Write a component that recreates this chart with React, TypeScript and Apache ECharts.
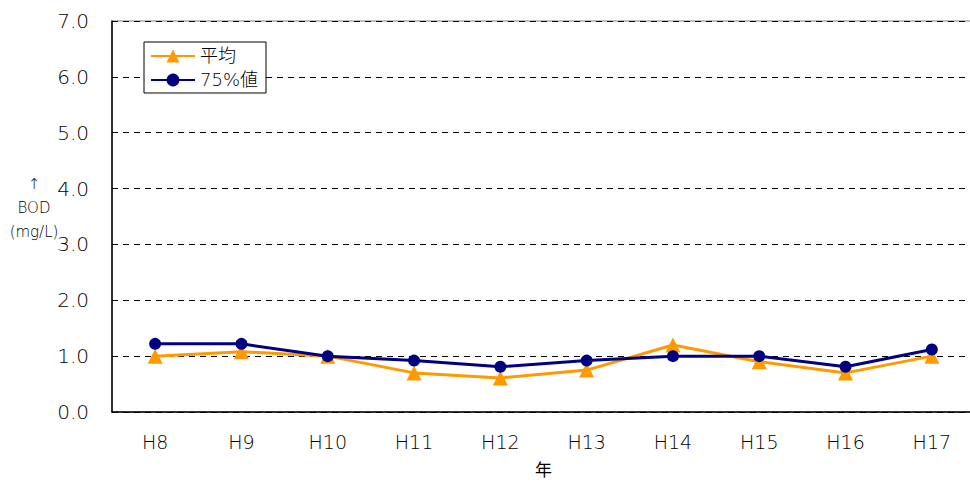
import React, { useEffect, useRef } from "react";
import * as echarts from "echarts";

const categories = ["H8", "H9", "H10", "H11", "H12", "H13", "H14", "H15", "H16", "H17"];
const averageValues = [1.0, 1.08, 1.0, 0.7, 0.61, 0.75, 1.2, 0.9, 0.7, 1.0];
const p75Values = [1.22, 1.22, 1.0, 0.92, 0.81, 0.92, 1.0, 1.0, 0.81, 1.12];
const seriesNames = ["平均", "75%値"];
const yTicks = { min: 0, max: 7, interval: 1 };

const FONT = "'DejaVu Sans', 'Noto Sans CJK JP', sans-serif";
const CJK = "'Noto Sans CJK JP', sans-serif";

export default function App() {
  const ref = useRef<HTMLDivElement>(null);
  useEffect(() => {
    if (!ref.current) return;
    const chart = echarts.init(ref.current, null, { renderer: "svg" });
    chart.setOption({
      animation: false,
      backgroundColor: "#ffffff",
      grid: {
        left: 112,
        top: 21,
        right: 0,
        bottom: 70,
        show: true,
        borderColor: "#808080",
        borderWidth: 1,
      },
      legend: {
        orient: "vertical",
        left: 144,
        top: 42,
        padding: [5, 8, 4, 6],
        itemGap: 6,
        itemWidth: 44,
        itemHeight: 16,
        borderColor: "#000",
        borderWidth: 1,
        backgroundColor: "#fff",
        textStyle: { fontFamily: FONT, fontSize: 18, fontWeight: 200, color: "#000" },
        data: seriesNames,
      },
      xAxis: {
        type: "category",
        data: categories,
        name: "年",
        nameLocation: "middle",
        nameGap: 48,
        nameTextStyle: { fontFamily: CJK, fontSize: 17, color: "#000" },
        axisLine: { lineStyle: { color: "#000", width: 1.5 } },
        axisTick: { inside: true, length: 6, lineStyle: { color: "#000" } },
        axisLabel: { fontFamily: FONT, fontSize: 19, fontWeight: 200, color: "#000", margin: 20 },
        splitLine: { show: false },
      },
      yAxis: {
        type: "value",
        min: yTicks.min,
        max: yTicks.max,
        interval: yTicks.interval,
        axisLine: { show: true, lineStyle: { color: "#000", width: 1.5 } },
        axisTick: { show: true, inside: true, length: 6, lineStyle: { color: "#000" } },
        axisLabel: {
          fontFamily: FONT,
          fontSize: 20,
          fontWeight: 200,
          color: "#000",
          margin: 23,
          formatter: (v: number) => v.toFixed(1),
        },
        splitLine: {
          show: true,
          lineStyle: { color: "#000", type: [6, 5], width: 1 },
        },
      },
      graphic: [
        {
          type: "text",
          x: 34,
          y: 172,
          style: {
            text: "↑\nBOD\n(mg/L)",
            fontFamily: FONT,
            fontSize: 15,
            fontWeight: 200,
            lineHeight: 24,
            fill: "#000",
            align: "center",
            verticalAlign: "top",
          },
        },
      ],
      series: [
        {
          name: seriesNames[0],
          type: "line",
          data: averageValues,
          symbol: "triangle",
          symbolSize: 15,
          itemStyle: { color: "#FF9900" },
          lineStyle: { color: "#FF9900", width: 3 },
          z: 2,
        },
        {
          name: seriesNames[1],
          type: "line",
          data: p75Values,
          symbol: "circle",
          symbolSize: 12,
          itemStyle: { color: "#000080" },
          lineStyle: { color: "#000080", width: 3 },
          z: 3,
        },
      ],
    });
    return () => chart.dispose();
  }, []);
  return (
    <div style={{ position: "absolute", left: 0, top: 0, width: 970, height: 482, overflow: "hidden" }}>
      <div ref={ref} style={{ width: 975, height: 482 }} />
    </div>
  );
}
